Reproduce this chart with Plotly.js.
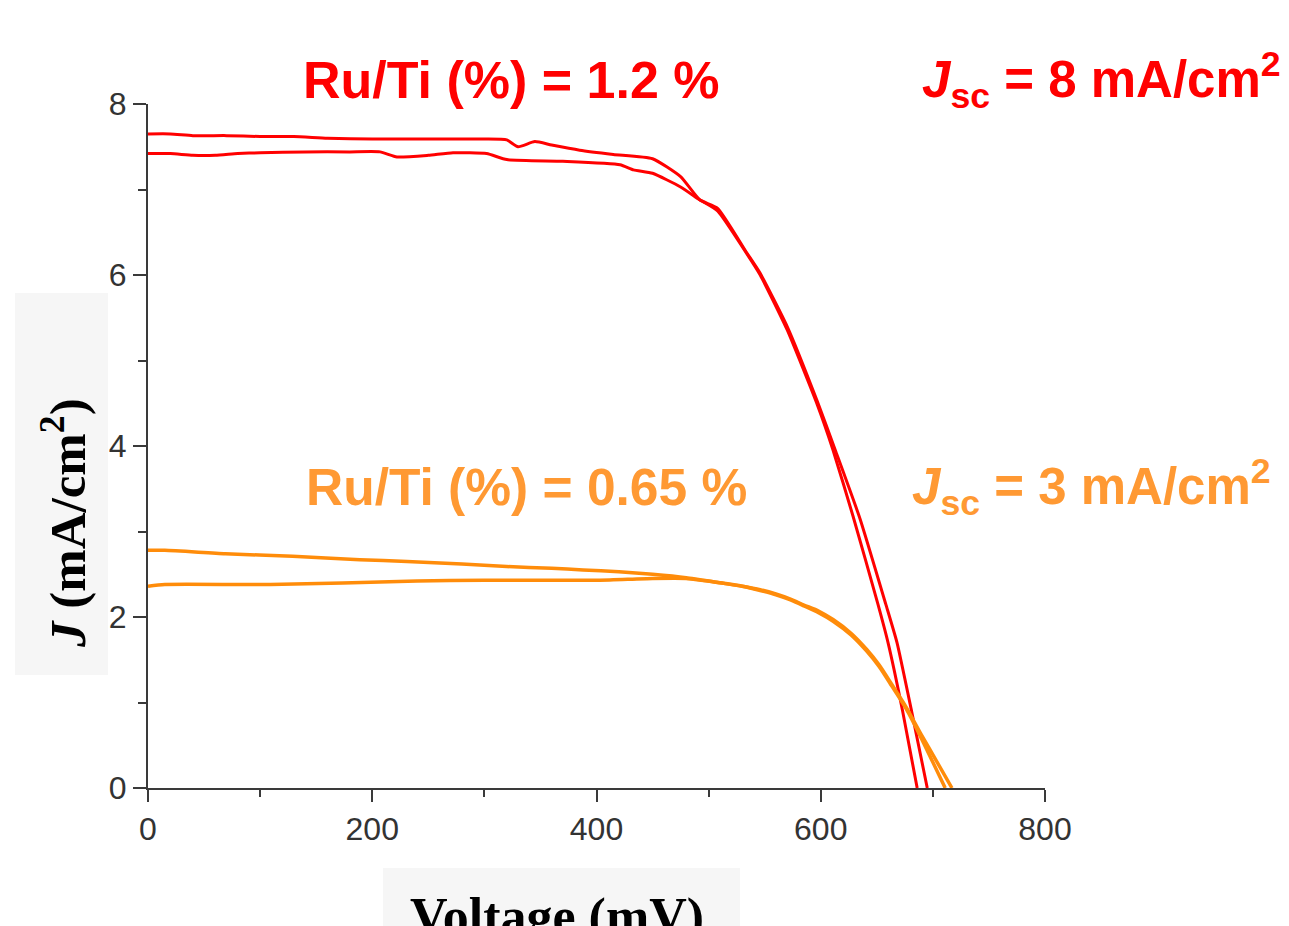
<!DOCTYPE html>
<html>
<head>
<meta charset="utf-8">
<script src="https://cdn.plot.ly/plotly-3.0.1.min.js"></script>
<style>
html,body{margin:0;padding:0;background:#fff;}
#chart{width:1289px;height:926px;}
</style>
</head>
<body>
<div id="chart"></div>
<script>
// Ru/Ti = 1.2 % (two J-V scans)
var redA_V = [0, 20, 40, 70, 100, 130, 160, 200, 250, 300, 320, 330, 345, 360, 385, 415, 450, 475, 492, 508, 534, 546, 570, 597, 613, 635, 658, 668, 681, 695];
var redA_J = [7.65, 7.65, 7.63, 7.63, 7.62, 7.62, 7.60, 7.59, 7.59, 7.59, 7.58, 7.50, 7.56, 7.52, 7.46, 7.41, 7.36, 7.15, 6.88, 6.78, 6.26, 6.02, 5.40, 4.52, 3.95, 3.15, 2.15, 1.70, 0.90, 0];
var redB_V = [0, 20, 40, 60, 80, 100, 140, 180, 207, 222, 250, 272, 302, 320, 370, 421, 433, 450, 475, 492, 508, 534, 546, 570, 597, 611, 629, 651, 660, 673, 686];
var redB_J = [7.42, 7.42, 7.40, 7.40, 7.42, 7.43, 7.44, 7.44, 7.44, 7.38, 7.40, 7.43, 7.42, 7.35, 7.33, 7.29, 7.23, 7.19, 7.03, 6.88, 6.75, 6.25, 6.00, 5.36, 4.48, 3.95, 3.17, 2.15, 1.70, 0.90, 0];

// Ru/Ti = 0.65 % (two J-V scans)
var orgA_V = [0, 15, 69, 129, 189, 231, 280, 320, 360, 388, 420, 450, 480, 510, 530, 546, 560, 573, 585, 598, 611, 627, 641, 652, 662, 676, 689, 703, 717];
var orgA_J = [2.78, 2.78, 2.74, 2.71, 2.67, 2.65, 2.62, 2.59, 2.57, 2.55, 2.53, 2.50, 2.46, 2.40, 2.36, 2.32, 2.27, 2.21, 2.14, 2.07, 1.97, 1.81, 1.62, 1.44, 1.24, 0.95, 0.64, 0.32, 0];
var orgB_V = [0, 15, 109, 240, 300, 350, 403, 450, 480, 510, 530, 546, 560, 573, 585, 598, 611, 627, 641, 652, 662, 676, 689, 700, 711];
var orgB_J = [2.36, 2.38, 2.38, 2.42, 2.43, 2.43, 2.43, 2.45, 2.45, 2.40, 2.36, 2.31, 2.26, 2.20, 2.13, 2.05, 1.95, 1.79, 1.60, 1.42, 1.22, 0.93, 0.60, 0.30, 0];

var xTicks = [0, 200, 400, 600, 800];
var yTicks = [0, 2, 4, 6, 8];

var RED = '#ff0000';
var ORANGE_LINE = '#ff8c0a';
var ORANGE_TEXT = '#ff9933';

var traces = [
  {x: redA_V, y: redA_J, mode: 'lines', line: {color: RED, width: 3, shape: 'spline', smoothing: 0.5}, showlegend: false},
  {x: redB_V, y: redB_J, mode: 'lines', line: {color: RED, width: 3, shape: 'spline', smoothing: 0.5}, showlegend: false},
  {x: orgA_V, y: orgA_J, mode: 'lines', line: {color: ORANGE_LINE, width: 3.5, shape: 'spline', smoothing: 0.6}, showlegend: false},
  {x: orgB_V, y: orgB_J, mode: 'lines', line: {color: ORANGE_LINE, width: 3.5, shape: 'spline', smoothing: 0.6}, showlegend: false}
];

// plot area in pixels
var L = 148, R = 1045, T = 104, B = 788;
function px(x) { return (x - L) / (R - L); }
function py(y) { return (B - y) / (B - T); }

var layout = {
  width: 1289, height: 926,
  margin: {l: L, r: 1289 - R, t: T, b: 926 - B, pad: 0},
  paper_bgcolor: '#ffffff',
  plot_bgcolor: '#ffffff',
  showlegend: false,
  xaxis: {
    range: [0, 800], tickvals: xTicks, ticktext: xTicks.map(String),
    showgrid: false, zeroline: false, showline: true, linecolor: '#3a3a3a', linewidth: 2,
    ticks: 'outside', ticklen: 12, tickwidth: 2, tickcolor: '#3a3a3a',
    minor: {tickvals: [100, 300, 500, 700], ticks: 'outside', ticklen: 7, tickwidth: 2, tickcolor: '#3a3a3a', showgrid: false},
    tickfont: {family: 'Liberation Sans, Arial, sans-serif', size: 32, color: '#333333'},
    fixedrange: true
  },
  yaxis: {
    range: [0, 8], tickvals: yTicks, ticktext: yTicks.map(String),
    showgrid: false, zeroline: false, showline: true, linecolor: '#3a3a3a', linewidth: 2,
    ticks: 'outside', ticklen: 13, tickwidth: 2, tickcolor: '#3a3a3a',
    minor: {tickvals: [1, 3, 5, 7], ticks: 'outside', ticklen: 8, tickwidth: 2, tickcolor: '#3a3a3a', showgrid: false},
    tickfont: {family: 'Liberation Sans, Arial, sans-serif', size: 32, color: '#333333'},
    fixedrange: true
  },
  shapes: [
    {type: 'rect', xref: 'paper', yref: 'paper', x0: px(15), x1: px(108), y0: py(675), y1: py(293),
     fillcolor: '#f6f6f6', line: {width: 0}, layer: 'below'},
    {type: 'rect', xref: 'paper', yref: 'paper', x0: px(383), x1: px(740), y0: py(940), y1: py(868),
     fillcolor: '#f6f6f6', line: {width: 0}, layer: 'below'}
  ],
  annotations: [
    {xref: 'paper', yref: 'paper', x: px(301), y: py(80), xanchor: 'left', yanchor: 'middle', showarrow: false,
     text: '<b>Ru/Ti (%) = 1.2 %</b>', font: {family: 'Liberation Sans, Arial, sans-serif', size: 52, color: RED}},
    {xref: 'paper', yref: 'paper', x: px(920), y: py(80), xanchor: 'left', yanchor: 'middle', showarrow: false,
     text: '<b><i>J</i><sub>sc</sub> = 8 mA/cm<sup>2</sup></b>', font: {family: 'Liberation Sans, Arial, sans-serif', size: 51, color: RED}},
    {xref: 'paper', yref: 'paper', x: px(304), y: py(487), xanchor: 'left', yanchor: 'middle', showarrow: false,
     text: '<b>Ru/Ti (%) = 0.65 %</b>', font: {family: 'Liberation Sans, Arial, sans-serif', size: 51.5, color: ORANGE_TEXT}},
    {xref: 'paper', yref: 'paper', x: px(910), y: py(487), xanchor: 'left', yanchor: 'middle', showarrow: false,
     text: '<b><i>J</i><sub>sc</sub> = 3 mA/cm<sup>2</sup></b>', font: {family: 'Liberation Sans, Arial, sans-serif', size: 51, color: ORANGE_TEXT}},
    {xref: 'paper', yref: 'paper', x: px(64), y: py(523), xanchor: 'center', yanchor: 'middle', showarrow: false, textangle: -90,
     text: '<b><i>J</i> (mA/cm<sup>2</sup>)</b>', font: {family: 'Liberation Serif, Times New Roman, serif', size: 51, color: '#000000'}},
    {xref: 'paper', yref: 'paper', x: px(557), y: py(886), xanchor: 'center', yanchor: 'top', showarrow: false,
     text: '<b>Voltage (mV)</b>', font: {family: 'Liberation Serif, Times New Roman, serif', size: 52, color: '#000000'}}
  ]
};

Plotly.newPlot('chart', traces, layout, {displayModeBar: false, staticPlot: true});
</script>
</body>
</html>
